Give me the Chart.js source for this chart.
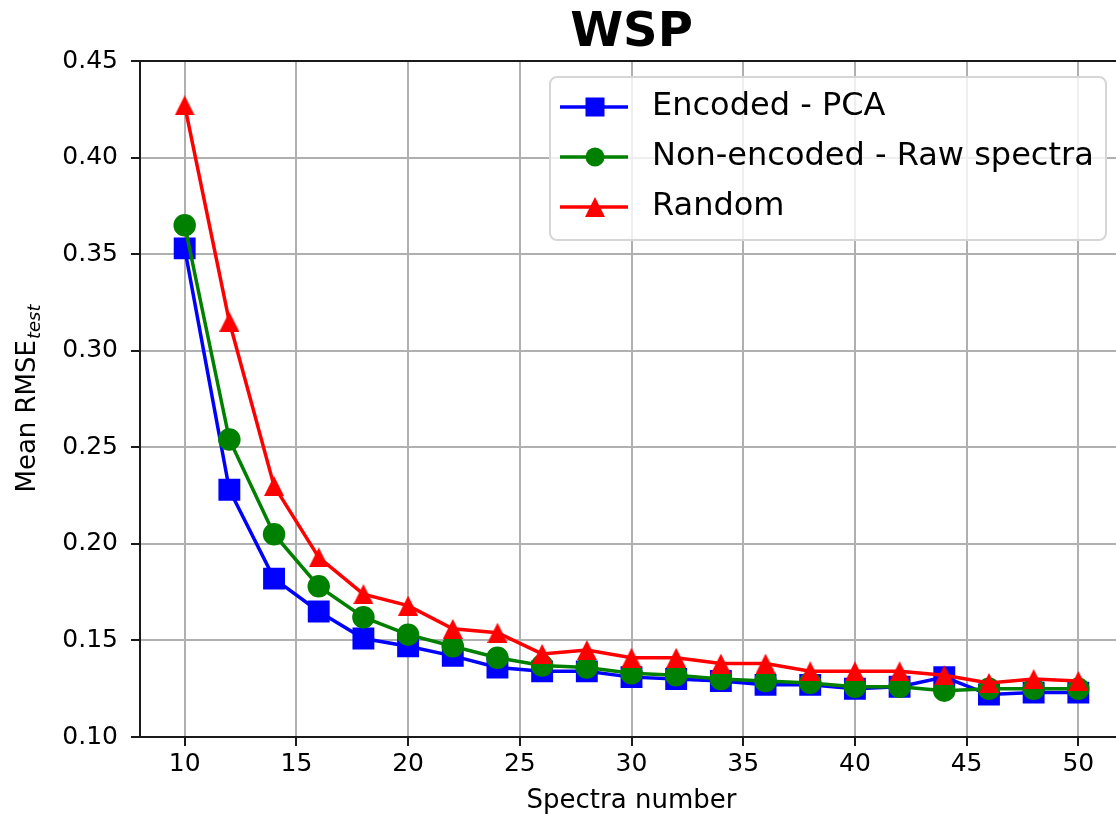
<!DOCTYPE html>
<html>
<head>
<meta charset="utf-8">
<title>WSP</title>
<script src="https://cdn.jsdelivr.net/npm/chart.js"></script>
<style>
  html, body { margin: 0; padding: 0; background: #fff; overflow: hidden; }
  #wrap { width: 1116px; height: 818px; overflow: hidden; }
  canvas { display: block; }
</style>
</head>
<body>
<div id="wrap"><canvas id="chartWsp" width="1131" height="818"></canvas></div>
<script>
// ------------------------------------------------------------
// Mean RMSE (test) vs number of spectra, WSP
// ------------------------------------------------------------

const spectraNumber = [10, 12, 14, 16, 18, 20, 22, 24, 26, 28, 30, 32, 34, 36, 38, 40, 42, 44, 46, 48, 50];

const encodedPca = [0.353, 0.228, 0.182, 0.165, 0.151, 0.147, 0.142, 0.136, 0.134, 0.134, 0.131,
                    0.130, 0.129, 0.127, 0.127, 0.125, 0.126, 0.131, 0.122, 0.123, 0.123];
const rawSpectra = [0.365, 0.254, 0.205, 0.178, 0.162, 0.153, 0.147, 0.141, 0.137, 0.136, 0.133,
                    0.132, 0.130, 0.129, 0.128, 0.126, 0.126, 0.124, 0.125, 0.125, 0.125];
const randomPick = [0.427, 0.315, 0.230, 0.193, 0.174, 0.168, 0.156, 0.154, 0.143, 0.145, 0.141,
                    0.141, 0.138, 0.138, 0.134, 0.134, 0.134, 0.132, 0.128, 0.130, 0.129];

const seriesNames = ['Encoded - PCA', 'Non-encoded - Raw spectra', 'Random'];
const xTicks = [10, 15, 20, 25, 30, 35, 40, 45, 50];
const yTicks = [0.10, 0.15, 0.20, 0.25, 0.30, 0.35, 0.40, 0.45];

const FONT = 'DejaVu Sans';
const BLUE = '#0000ff';
const GREEN = '#008000';
const RED = '#ff0000';

// matplotlib-style "^" marker (same width and height, centred on its box)
function triangleMarker(size, color) {
  const c = document.createElement('canvas');
  c.width = size; c.height = size;
  const g = c.getContext('2d');
  g.fillStyle = color;
  g.beginPath();
  g.moveTo(size / 2, 0);
  g.lineTo(size, size);
  g.lineTo(0, size);
  g.closePath();
  g.fill();
  return c;
}
const redTriangle = triangleMarker(20, RED);

const toPoints = ys => spectraNumber.map((x, i) => ({ x, y: ys[i] }));

// frame around the axes
const framePlugin = {
  id: 'frame',
  afterDatasetsDraw(chart) {
    const { ctx, chartArea: a } = chart;
    ctx.save();
    ctx.strokeStyle = '#1a1a1a';
    ctx.lineWidth = 2;
    ctx.strokeRect(a.left, a.top, a.right - a.left, a.bottom - a.top);
    ctx.restore();
  }
};

// y axis title with the "test" subscript
const yTitlePlugin = {
  id: 'yTitle',
  afterDraw(chart) {
    const { ctx, chartArea: a } = chart;
    const main = 'Mean RMSE', sub = 'test';
    ctx.save();
    ctx.fillStyle = '#000';
    ctx.textBaseline = 'alphabetic';
    ctx.textAlign = 'left';
    ctx.font = `26px "${FONT}"`;
    const w1 = ctx.measureText(main).width;
    ctx.font = `italic 18px "${FONT}"`;
    const w2 = ctx.measureText(sub).width;
    ctx.translate(35, (a.top + a.bottom) / 2);
    ctx.rotate(-Math.PI / 2);
    const x0 = -(w1 + w2) / 2;
    ctx.font = `26px "${FONT}"`;
    ctx.fillText(main, x0, 0);
    ctx.font = `italic 18px "${FONT}"`;
    ctx.fillText(sub, x0 + w1 + 1, 5);
    ctx.restore();
  }
};

// legend box in the upper right of the axes
const legendPlugin = {
  id: 'boxLegend',
  afterDraw(chart) {
    const { ctx } = chart;
    const box = { x: 550, y: 77, w: 556, h: 163, r: 7 };
    ctx.save();
    ctx.beginPath();
    ctx.roundRect(box.x, box.y, box.w, box.h, box.r);
    ctx.fillStyle = 'rgba(255,255,255,0.8)';
    ctx.fill();
    ctx.strokeStyle = '#d6d6d6';
    ctx.lineWidth = 2;
    ctx.stroke();

    const rows = [107, 157, 207];
    chart.data.datasets.forEach((ds, i) => {
      const y = rows[i];
      ctx.strokeStyle = ds.borderColor;
      ctx.lineWidth = ds.borderWidth;
      ctx.beginPath();
      ctx.moveTo(560, y);
      ctx.lineTo(628, y);
      ctx.stroke();
      ctx.fillStyle = ds.borderColor;
      const mx = 595;
      if (ds.pointStyle === 'rect') {
        ctx.fillRect(mx - 9.5, y - 9.5, 19, 19);
      } else if (ds.pointStyle === 'circle') {
        ctx.beginPath();
        ctx.arc(mx, y, ds.pointRadius, 0, Math.PI * 2);
        ctx.fill();
      } else {
        ctx.drawImage(ds.pointStyle, mx - 10, y - 10);
      }
      ctx.fillStyle = '#000';
      ctx.font = `32px "${FONT}"`;
      ctx.textBaseline = 'middle';
      ctx.textAlign = 'left';
      ctx.fillText(ds.label, 652, y);
    });
    ctx.restore();
  }
};

const ctx = document.getElementById('chartWsp');
new Chart(ctx, {
  type: 'line',
  data: {
    datasets: [
      { label: seriesNames[0], data: toPoints(encodedPca), borderColor: BLUE, backgroundColor: BLUE,
        borderWidth: 3.5, pointStyle: 'rect', pointRadius: 13, order: 3 },
      { label: seriesNames[1], data: toPoints(rawSpectra), borderColor: GREEN, backgroundColor: GREEN,
        borderWidth: 3.5, pointStyle: 'circle', pointRadius: 9.5, order: 2 },
      { label: seriesNames[2], data: toPoints(randomPick), borderColor: RED, backgroundColor: RED,
        borderWidth: 3.5, pointStyle: redTriangle, pointRadius: 10, order: 1 }
    ]
  },
  options: {
    responsive: false,
    animation: false,
    layout: { autoPadding: false, padding: { left: 0, right: 8, top: 0, bottom: 0 } },
    elements: {
      line: { tension: 0 },
      point: { borderWidth: 0, hoverRadius: 10 }
    },
    plugins: {
      legend: { display: false },
      tooltip: { enabled: false },
      title: {
        display: true,
        text: 'WSP',
        fullSize: false,
        color: '#000',
        font: { family: FONT, size: 48, weight: 'bold', lineHeight: 1.1 },
        padding: { top: 7.6, bottom: 0.6 }
      }
    },
    scales: {
      x: {
        type: 'linear',
        min: 8,
        max: 52,
        afterBuildTicks: axis => { axis.ticks = xTicks.map(v => ({ value: v })); },
        afterFit: scale => { scale.height = 81; },
        border: { display: false },
        grid: { color: '#b0b0b0', lineWidth: 2, tickLength: 9, tickColor: '#1a1a1a', tickWidth: 2 },
        ticks: { color: '#000', font: { family: FONT, size: 25 }, padding: 3, maxRotation: 0 },
        title: {
          display: true,
          text: 'Spectra number',
          color: '#000',
          font: { family: FONT, size: 26 },
          padding: { top: 0, bottom: 1 }
        }
      },
      y: {
        type: 'linear',
        min: 0.10,
        max: 0.45,
        afterBuildTicks: axis => { axis.ticks = yTicks.map(v => ({ value: v })); },
        afterFit: scale => { scale.width = 140; },
        border: { display: false },
        grid: { color: '#b0b0b0', lineWidth: 2, tickLength: 9, tickColor: '#1a1a1a', tickWidth: 2 },
        ticks: {
          color: '#000',
          font: { family: FONT, size: 25 },
          padding: 13,
          callback: v => v.toFixed(2)
        }
      }
    }
  },
  plugins: [framePlugin, yTitlePlugin, legendPlugin]
});
</script>
</body>
</html>
